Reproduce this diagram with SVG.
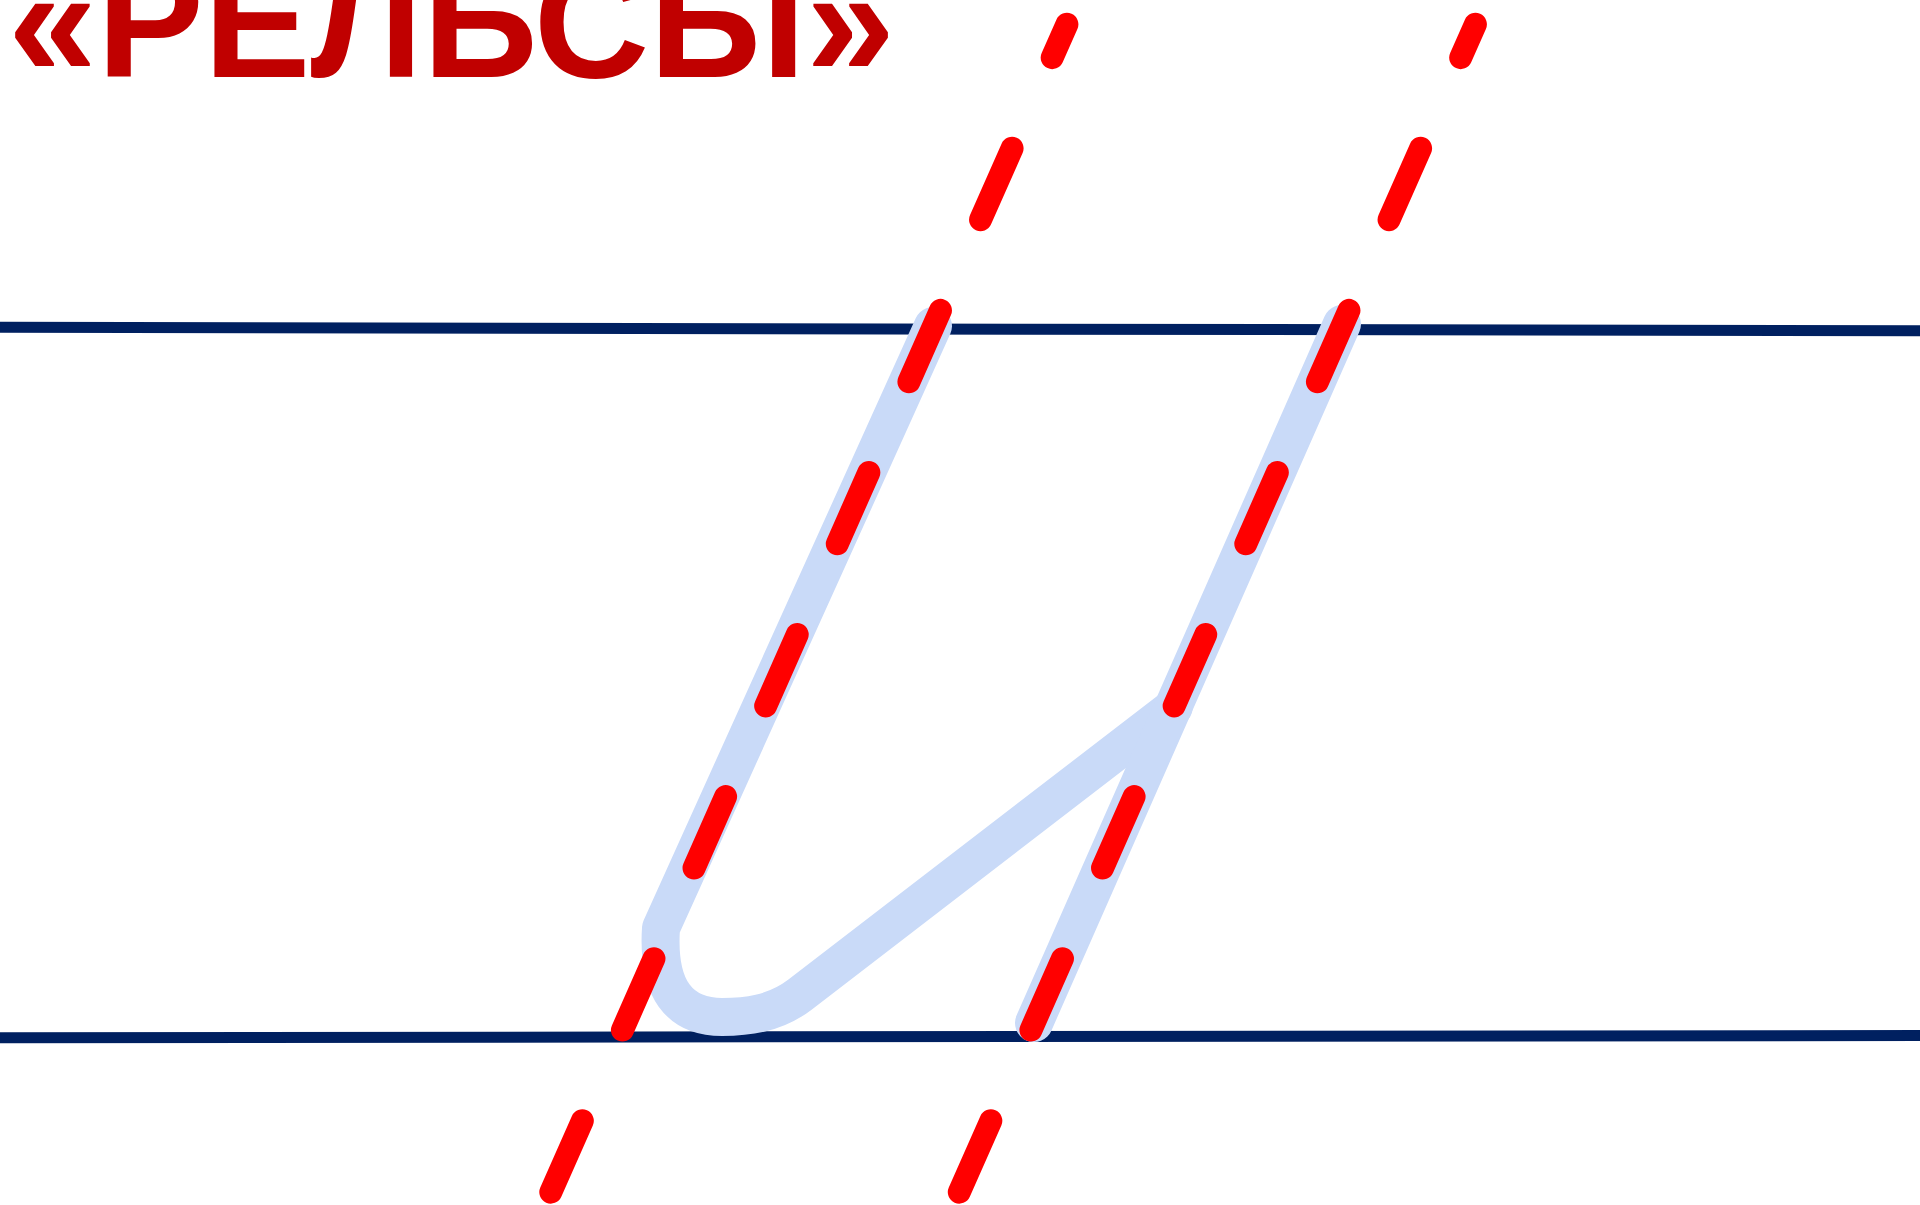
<svg xmlns="http://www.w3.org/2000/svg" width="1920" height="1205" viewBox="0 0 1920 1205">
  <style>
    .rail { stroke: #002060; stroke-width: 11; fill: none; }
    .letter { stroke: #C9DAF8; stroke-width: 38; fill: none; stroke-linecap: round; stroke-linejoin: round; }
    .slant { stroke: #FF0000; stroke-width: 23; fill: none; stroke-linecap: round; stroke-dasharray: 78 99.2; stroke-dashoffset: 41.6; }
    .title { font-family: "Liberation Sans", Arial, sans-serif; font-weight: bold; font-size: 160px; fill: #C00000; }
  </style>
  <rect width="1920" height="1205" fill="#FFFFFF"/>
  <g id="rails">
    <line class="rail" x1="-5" y1="327.3" x2="1925" y2="330.8"/>
    <line class="rail" x1="-5" y1="1037.7" x2="1925" y2="1035.6"/>
  </g>
  <g id="letter">
    <path class="letter" d="M 933 326 L 661 928 C 657 990 680 1017 722 1017 C 745 1017 774 1014.6 800 994.6 L 1173.7 707.3"/>
    <path class="letter" d="M 1342 324 L 1034 1023"/>
  </g>
  <g id="slant-lines">
    <path class="slant" d="M 1066.9 24.3 L 542.9 1210"/>
    <path class="slant" d="M 1475.4 24.3 L 951.4 1210"/>
  </g>
  <g id="title">
    <text class="title" x="8" y="77">«РЕЛЬСЫ»</text>
  </g>
</svg>
